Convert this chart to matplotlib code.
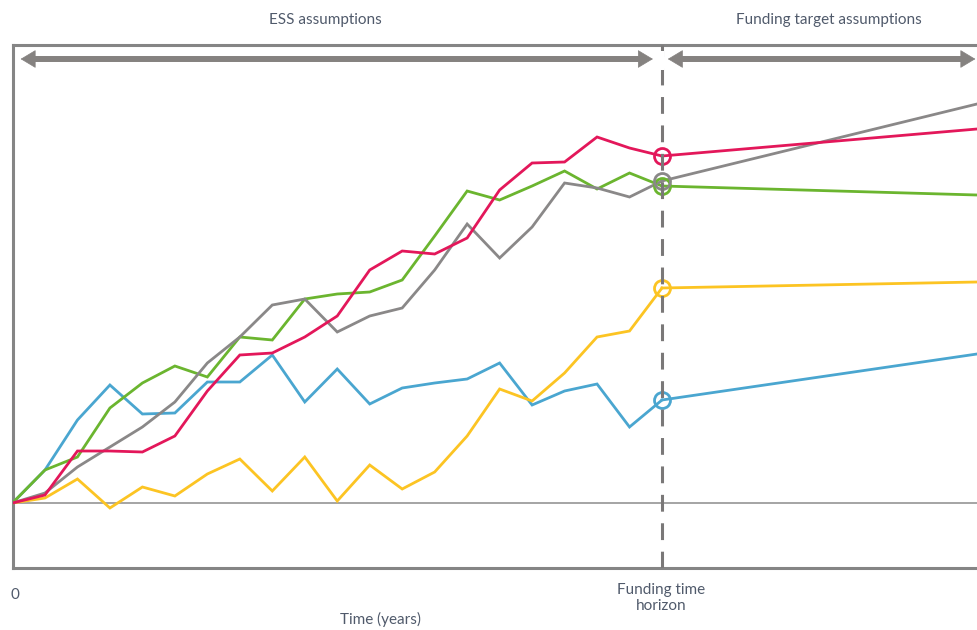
import numpy as np
import matplotlib.pyplot as plt

# time steps up to the funding time horizon, then one long step to the right edge
t_ess = np.arange(0, 21)
t_end = 29.7

# values (arbitrary units, 0 = baseline)
blue = [0, 3.3, 8.3, 11.8, 8.9, 9.0, 12.1, 12.1, 14.8, 10.1, 13.4, 9.9, 11.5, 12.0,
        12.4, 14.0, 9.8, 11.2, 11.9, 7.6, 10.3]
green = [0, 3.3, 4.6, 9.5, 12.0, 13.7, 12.6, 16.6, 16.3, 20.4, 20.9, 21.1, 22.3, 26.7,
         31.2, 30.3, 31.7, 33.2, 31.4, 33.0, 31.7]
red = [0, 0.8, 5.2, 5.2, 5.1, 6.7, 11.2, 14.8, 15.0, 16.6, 18.7, 23.3, 25.2, 24.9,
       26.5, 31.3, 34.0, 34.1, 36.6, 35.5, 34.7]
grey = [0, 1.0, 3.6, 5.6, 7.6, 10.1, 14.0, 16.6, 19.8, 20.4, 17.1, 18.7, 19.5, 23.3,
        27.9, 24.5, 27.6, 32.0, 31.5, 30.6, 32.2]
yellow = [0, 0.5, 2.4, -0.5, 1.6, 0.7, 2.9, 4.4, 1.2, 4.6, 0.2, 3.8, 1.4, 3.1,
          6.7, 11.4, 10.2, 13.0, 16.6, 17.2, 21.5]

# value at the right edge (funding target projection)
end_values = {'blue': 14.9, 'green': 30.8, 'red': 37.4, 'grey': 39.9, 'yellow': 22.1}

series = [('blue', blue, '#4aa6d0'), ('yellow', yellow, '#fcc423'),
          ('green', green, '#6bb52f'), ('grey', grey, '#8a8888'),
          ('red', red, '#e3175a')]

plt.rcParams['font.family'] = ['Lato', 'DejaVu Sans']
text_col = '#505a6b'
frame_col = '#858585'
arrow_col = '#858280'

fig = plt.figure(figsize=(9.77, 6.30), dpi=100)
ax = fig.add_axes([12.5 / 977, 1 - 568 / 630, 1 - 12.5 / 977, (568 - 45) / 630])
ax.set_xlim(0, t_end)
ax.set_ylim(-6.5, 45.8)

for s in ['left', 'top', 'bottom']:
    ax.spines[s].set_color(frame_col)
    ax.spines[s].set_linewidth(2.2)
ax.spines['right'].set_visible(False)
ax.set_xticks([])
ax.set_yticks([])

ax.axhline(0, color='#8c8c8c', lw=1.1, zorder=1)
ax.axvline(20, color='#7a7878', lw=2.2, dashes=(5.5, 3.8), zorder=6)
# gap in the dashed line where the two arrows meet
ax.plot([20, 20], [43.3, 45.2], color='white', lw=3, zorder=7, solid_capstyle='butt')

for name, vals, col in series:
    ax.plot(t_ess, vals, color=col, lw=2, zorder=3, solid_joinstyle='miter')
    ax.plot([20, t_end], [vals[-1], end_values[name]], color=col, lw=2, zorder=3)
    ax.plot([20], [vals[-1]], 'o', ms=11.5, mfc='none', mec=col, mew=2, zorder=4)


def double_arrow(x0, x1, y):
    # heads as filled triangles, shaft as a plain thick line
    ax.annotate('', xy=(x0, y), xytext=(x1, y),
                arrowprops=dict(arrowstyle='<|-|>,head_length=1.0,head_width=0.6',
                                lw=0.5, color=arrow_col, mutation_scale=10,
                                shrinkA=0, shrinkB=0),
                annotation_clip=False)
    ax.plot([x0 + 0.35, x1 - 0.35], [y, y], color=arrow_col, lw=4.3,
            solid_capstyle='butt', clip_on=False)


double_arrow(0.25, 19.72, 44.4)
double_arrow(20.18, 29.65, 44.4)

fig.text(325 / 977, 1 - 20 / 630, 'ESS assumptions', ha='center', va='center',
         fontsize=11, color=text_col)
fig.text(829 / 977, 1 - 20 / 630, 'Funding target assumptions', ha='center', va='center',
         fontsize=11, color=text_col)
fig.text(15 / 977, 1 - 595 / 630, '0', ha='center', va='center', fontsize=11, color=text_col)
fig.text(380 / 977, 1 - 619 / 630, 'Time (years)', ha='center', va='center',
         fontsize=11, color=text_col)
fig.text(661 / 977, 1 - 598 / 630, 'Funding time\nhorizon', ha='center', va='center',
         fontsize=11, color=text_col, linespacing=1.15)

fig.savefig('out.png', dpi=100)
